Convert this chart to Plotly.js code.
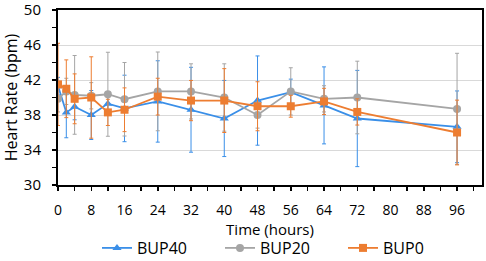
<!DOCTYPE html>
<html>
<head>
<meta charset="utf-8">
<script src="https://cdn.plot.ly/plotly-3.0.1.min.js"></script>
<style>html,body{margin:0;padding:0;background:#fff;}#chart{width:486px;height:261px;}</style>
</head>
<body>
<div id="chart"></div>
<script>
const hours = [0, 2, 4, 8, 12, 16, 24, 32, 40, 48, 56, 64, 72, 96];
const bup40 = [41.3, 38.3, 38.95, 38.0, 39.3, 38.75, 39.55, 38.6, 37.6, 39.65, 40.6, 39.1, 37.6, 36.65];
const bup40Err = [1.0, 2.9, 1.5, 2.8, 1.0, 3.8, 4.65, 4.85, 4.35, 5.1, 1.5, 4.4, 5.5, 4.1];
const bup20 = [39.85, 40.7, 40.3, 40.2, 40.37, 39.8, 40.7, 40.7, 40.0, 38.0, 40.7, 39.85, 40.0, 38.7];
const bup20Err = [1.5, 1.5, 4.5, 1.5, 4.8, 4.2, 4.5, 3.15, 3.85, 1.5, 2.7, 1.5, 4.15, 6.35];
const bup0 = [41.5, 41.0, 39.85, 40.0, 38.3, 38.6, 40.1, 39.65, 39.65, 39.0, 39.0, 39.55, 38.35, 36.0];
const bup0Err = [4.7, 3.3, 2.85, 4.65, 1.5, 2.5, 2.1, 2.3, 3.65, 2.8, 1.25, 1.5, 1.5, 3.7];
const xTicks = [0, 8, 16, 24, 32, 40, 48, 56, 64, 72, 80, 88, 96];
const yTicks = [30, 34, 38, 42, 46, 50];

const blue = '#3a8fe8', gray = '#a5a5a5', orange = '#ed7d31';
function tr(name, y, err, color, symbol, size) {
  return {
    x: hours, y: y, name: name, type: 'scatter', mode: 'lines+markers',
    line: {color: color, width: 1.8},
    marker: {color: color, symbol: symbol, size: size},
    error_y: {type: 'data', array: err, visible: true, color: color, thickness: 1, width: 2}
  };
}
const data = [
  tr('BUP40', bup40, bup40Err, blue, 'triangle-up', 8),
  tr('BUP20', bup20, bup20Err, gray, 'circle', 8),
  tr('BUP0', bup0, bup0Err, orange, 'square', 8)
];
const font = {family: 'Open Sans, Noto Sans, sans-serif', color: '#000'};
const layout = {
  width: 486, height: 261,
  margin: {l: 58, r: 4, t: 10, b: 76, autoexpand: false},
  paper_bgcolor: '#fff', plot_bgcolor: '#fff',
  font: Object.assign({size: 13}, font),
  showlegend: true,
  legend: {orientation: 'h', x: 0.092, xanchor: 'left', y: -0.36, yanchor: 'middle',
           font: Object.assign({size: 16}, font), entrywidth: 78, entrywidthmode: 'pixels',
           itemwidth: 30},
  xaxis: {
    range: [0, 102], tickvals: xTicks, ticktext: xTicks.map(String),
    ticks: 'outside', ticklen: 4, tickcolor: '#000', tickwidth: 1.5,
    minor: {dtick: 4, tick0: 0, ticks: 'outside', ticklen: 4, tickcolor: '#000', tickwidth: 1.5},
    showgrid: false, zeroline: false, automargin: false,
    showline: true, linecolor: '#000', linewidth: 2, mirror: true,
    tickfont: Object.assign({size: 14}, font), ticklabelstandoff: 7,
    title: {text: 'Time (hours)', font: Object.assign({size: 15}, font), standoff: 2}
  },
  yaxis: {
    range: [30, 50], tickvals: yTicks, ticktext: yTicks.map(String),
    ticks: 'outside', ticklen: 4, tickcolor: '#000', tickwidth: 1.5,
    minor: {dtick: 2, tick0: 30, ticks: 'outside', ticklen: 4, tickcolor: '#000', tickwidth: 1.5, showgrid: false},
    showgrid: true, gridcolor: '#d9d9d9', gridwidth: 1, zeroline: false, automargin: false,
    showline: true, linecolor: '#000', linewidth: 2, mirror: true,
    ticklabeloverflow: 'allow',
    tickfont: Object.assign({size: 15}, font), ticklabelstandoff: 8,
    title: {text: 'Heart Rate (bpm)', font: Object.assign({size: 16}, font), standoff: 6}
  }
};
Plotly.newPlot('chart', data, layout, {displayModeBar: false, staticPlot: true});
</script>
</body>
</html>
